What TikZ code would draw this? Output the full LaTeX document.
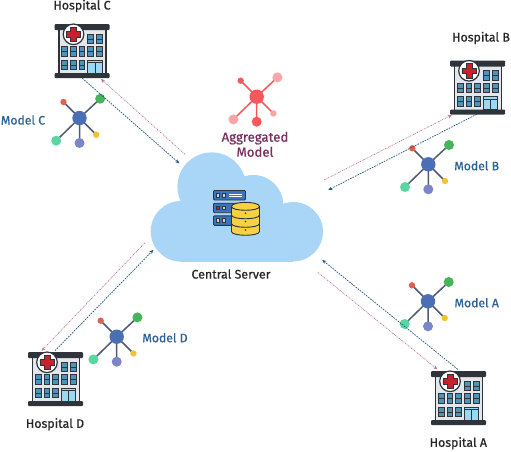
\documentclass[tikz,border=0pt]{standalone}
\usepackage{fontspec}
\setmainfont{Fira Sans}
\newfontfamily\labfont[FakeBold=0.7]{Fira Sans}
\usetikzlibrary{arrows.meta}
\definecolor{inkd}{HTML}{2F343B}
\definecolor{wallc}{HTML}{E3E7EC}
\definecolor{winc}{HTML}{4F93B8}
\definecolor{doorc}{HTML}{9BD8F2}
\definecolor{crossc}{HTML}{C8202C}
\definecolor{cloudc}{HTML}{A9D5F6}
\definecolor{modelblue}{HTML}{2B6196}
\definecolor{aggc}{HTML}{7B2D5F}
\definecolor{hubc}{HTML}{4A6FB5}
\definecolor{spokec}{HTML}{4F5B70}
\definecolor{greenc}{HTML}{45B45A}
\definecolor{redc}{HTML}{DB6351}
\definecolor{tealc}{HTML}{5AD6A0}
\definecolor{purpc}{HTML}{7C86C6}
\definecolor{yelc}{HTML}{F2C230}
\definecolor{coral}{HTML}{F9575B}
\definecolor{coralpale}{HTML}{FBA5A5}
\definecolor{upc}{HTML}{1F4E79}
\definecolor{downc}{HTML}{A5406F}
\definecolor{srvc}{HTML}{3B74B8}
\definecolor{dbc}{HTML}{F6D243}
\tikzset{
  x=1pt,y=-1pt,
  lab/.style={font=\labfont\fontsize{12.4}{14}\selectfont,text=black!85,inner sep=0pt,align=center},
  mlab/.style={font=\labfont\fontsize{12.2}{14}\selectfont,text=modelblue,inner sep=0pt},
  agglab/.style={font=\labfont\fontsize{13.2}{15}\selectfont,text=aggc,inner sep=0pt,align=center},
  uparrow/.style={draw=upc,dash pattern=on 1.6pt off 1.1pt,line width=0.7pt,-{Stealth[length=4pt,width=3.5pt]}},
  downarrow/.style={draw=downc!75,dash pattern=on 1.6pt off 0.9pt on 0.6pt off 0.9pt,line width=0.6pt,-{Stealth[length=4pt,width=3.5pt]}},
  win/.style={draw=inkd,line width=0.8pt,fill=winc},
  spoke/.style={line width=1.5pt},
  hospital/.pic={
    \fill[wallc] (4,5) rectangle (52,50);
    \draw[inkd,line width=1.1pt] (4.5,5)--(4.5,50) (51.5,5)--(51.5,50);
    \foreach \a/\b in {33.3/10,42.3/10,7.3/22.7,16/22.7,24.7/22.7,33.3/22.7,42.3/22.7,7.3/36,16/36,24.7/36}{
      \draw[win] (\a,\b) rectangle ++(5.6,9.6);
      \draw[inkd,line width=0.5pt] (\a,\b+4.8) -- ++(5.6,0);
    }
    \draw[inkd,line width=0.8pt,fill=doorc] (33.3,36) rectangle (47.7,49);
    \draw[inkd,line width=0.7pt] (33.3,38.5)--(47.7,38.5) (40.5,38.5)--(40.5,49);
    \fill[inkd,rounded corners=1pt] (0,0) rectangle (55,6);
    \fill[inkd,rounded corners=1pt] (0,49) rectangle (55,54);
    \draw[inkd,line width=1.2pt,fill=white] (19,10.3) circle[radius=10.3];
    \fill[crossc] (16.2,3.2) rectangle (21.8,17.4) (11.9,7.5) rectangle (26.1,13.1);
    \draw[inkd,line width=0.6pt] (16.2,3.2)--(21.8,3.2)--(21.8,7.5)--(26.1,7.5)--(26.1,13.1)--(21.8,13.1)--(21.8,17.4)--(16.2,17.4)--(16.2,13.1)--(11.9,13.1)--(11.9,7.5)--(16.2,7.5)--cycle;
  },
  model/.pic={
    \draw[spokec,spoke] (0,0)--(20.7,-19.3) (0,0)--(-16,-16) (0,0)--(-23.3,22.7) (0,0)--(0,25) (0,0)--(16.7,16.7);
    \fill[greenc] (20.7,-19.3) circle[radius=5];
    \fill[redc] (-16,-16) circle[radius=3.2];
    \fill[tealc] (-23.3,22.7) circle[radius=5];
    \fill[purpc] (0,25) circle[radius=5];
    \fill[yelc] (16.7,16.7) circle[radius=3.2];
    \fill[hubc] (0,0) circle[radius=7.2];
  },
  aggmodel/.pic={
    \draw[coral,spoke] (0,0)--(20.7,-19.3) (0,0)--(-16,-16) (0,0)--(-23.3,22.7) (0,0)--(0,25) (0,0)--(16.7,16.7);
    \fill[coralpale] (20.7,-19.3) circle[radius=5];
    \fill[coral] (-16,-16) circle[radius=3.2];
    \fill[coralpale] (-23.3,22.7) circle[radius=5];
    \fill[coral] (0,25) circle[radius=5];
    \fill[coralpale] (16.7,16.7) circle[radius=3.2];
    \fill[coral] (0,0) circle[radius=7.2];
  },
  cloudpic/.pic={
    \fill[cloudc] (181,231.3) circle[radius=30.3] (211.7,186.7) circle[radius=34.3]
      (253.3,205) circle[radius=30] (293.3,231.7) circle[radius=29.7];
    \fill[cloudc] (181,205) rectangle (293,262);
  },
  serverpic/.pic={
    \foreach \b in {0,12.7,25.3}{
      \draw[inkd,line width=0.9pt,fill=srvc,rounded corners=1pt] (0,\b) rectangle (32,\b+9.5);
      \draw[inkd,line width=0.7pt,fill=white!70!srvc] (3,\b+3) rectangle ++(3,3.5) (8.5,\b+3) rectangle ++(3,3.5);
    }
    \draw[white,line width=0.5pt] (15,3.5)--(28,3.5) (15,5.8)--(28,5.8);
    \fill[crossc] (3.6,16.5) rectangle ++(2,2);
    \draw[inkd,line width=0.9pt,fill=dbc] (18,16) -- (18,41) .. controls (18,46) and (46,46) .. (46,41) -- (46,16) .. controls (46,10.5) and (18,10.5) .. (18,16) -- cycle;
    \draw[inkd,line width=0.9pt] (18,16) .. controls (18,21) and (46,21) .. (46,16)
      (18,24.5) .. controls (18,29.5) and (46,29.5) .. (46,24.5)
      (18,33) .. controls (18,38) and (46,38) .. (46,33);
    \fill[inkd] (32,22.7) circle[radius=0.8] (32,31) circle[radius=0.8] (32,39.5) circle[radius=0.8];
  }
}
\begin{document}
\begin{tikzpicture}
\useasboundingbox (0,0) rectangle (511,451);
\pic (cloud) at (0,0) {cloudpic};
\pic (srv) at (213.5,190.5) {serverpic};

\pic (hospC) at (54.5,24) {hospital};
\pic (hospB) at (450,60.5) {hospital};
\pic (hospA) at (431,371) {hospital};
\pic (hospD) at (28,352) {hospital};

\pic (modC) at (79.5,118) {model};
\pic (modB) at (428.3,164.3) {model};
\pic (modA) at (428,301.3) {model};
\pic (modD) at (116.7,336.7) {model};
\pic (modG) at (256.7,96.7) {aggmodel};

\node[lab] (lC) at (82,6) {Hospital C};
\node[lab] (lB) at (481,38) {Hospital B};
\node[lab] (lA) at (458.3,443.3) {Hospital A};
\node[lab] (lD) at (55,424.3) {Hospital D};
\node[lab] (lS) at (231,274) {Central Server};
\node[mlab] (mC) at (23,120) {Model C};
\node[mlab] (mB) at (476.7,165.7) {Model B};
\node[mlab] (mA) at (476.7,302.7) {Model A};
\node[mlab] (mD) at (165,337.7) {Model D};
\node[agglab] (mG) at (255,144.3) {Aggregated\\Model};

\coordinate (cUpS) at (82.3,78.3);
\coordinate (cUpE) at (179.3,163.3);
\coordinate (cDnS) at (185,154.3);
\coordinate (cDnE) at (101,79);
\coordinate (bUpS) at (476.7,114.3);
\coordinate (bUpE) at (328.3,190);
\coordinate (bDnS) at (324,180);
\coordinate (bDnE) at (451.7,115);
\coordinate (aUpS) at (457.7,369.3);
\coordinate (aUpE) at (322.3,260);
\coordinate (aDnS) at (317.7,272.3);
\coordinate (aDnE) at (437.3,369.3);
\coordinate (dUpS) at (55,350.7);
\coordinate (dUpE) at (153.3,250);
\coordinate (dDnS) at (145,242.7);
\coordinate (dDnE) at (41.7,350.7);
\draw[uparrow] (cUpS) -- (cUpE);
\draw[downarrow] (cDnS) -- (cDnE);
\draw[uparrow] (bUpS) -- (bUpE);
\draw[downarrow] (bDnS) -- (bDnE);
\draw[uparrow] (aUpS) -- (aUpE);
\draw[downarrow] (aDnS) -- (aDnE);
\draw[uparrow] (dUpS) -- (dUpE);
\draw[downarrow] (dDnS) -- (dDnE);
\end{tikzpicture}
\end{document}
